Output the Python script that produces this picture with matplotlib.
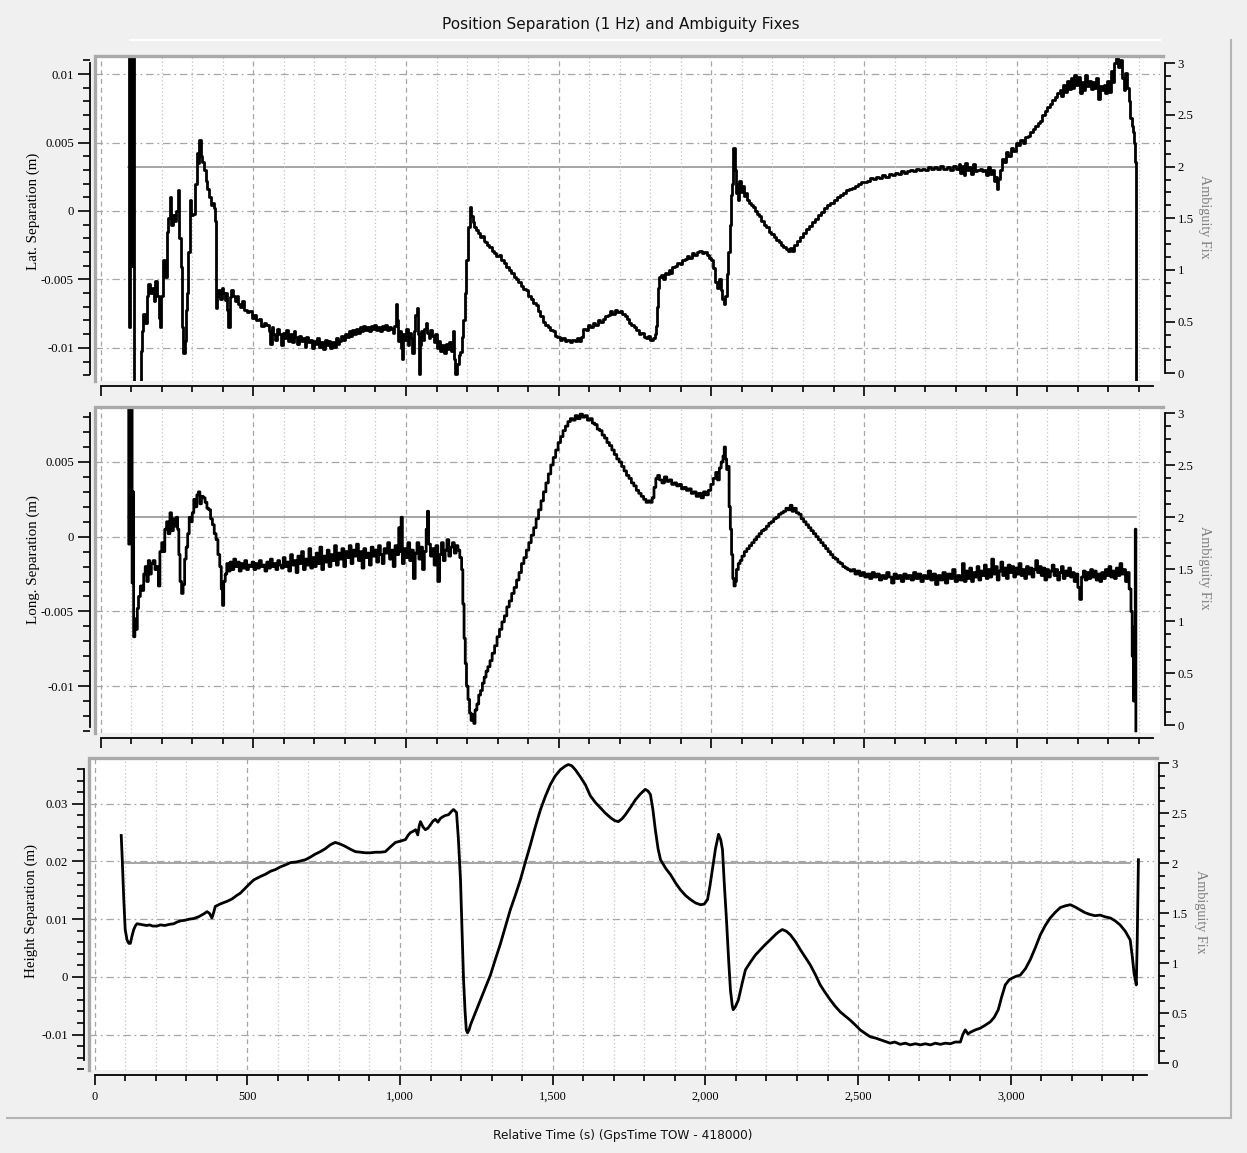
import matplotlib
matplotlib.use("Agg")
import matplotlib.pyplot as plt
from matplotlib.lines import Line2D
from matplotlib.ticker import MultipleLocator, FuncFormatter

# ---------------------------------------------------------------- data
# time (s, GpsTime TOW - 418000) and latitude separation (m)
lat_t = [88, 92, 95, 98, 100, 103, 106, 109, 132, 136, 140, 146, 151, 156, 162, 168, 174, 179, 185, 190,
         194, 199, 205, 210, 216, 222, 227, 232, 238, 243, 248, 254, 258, 262, 266, 271, 275, 279, 283, 287,
         292, 297, 303, 308, 314, 319, 323, 328, 333, 338, 344, 349, 354, 360, 365, 370, 374, 377, 381, 385,
         390, 396, 401, 406, 410, 414, 418, 423, 428, 434, 440, 446, 451, 457, 463, 470, 478, 486, 494, 502,
         510, 518, 526, 534, 542, 550, 556, 560, 566, 572, 578, 584, 590, 596, 602, 608, 614, 620, 626, 632,
         638, 644, 650, 656, 662, 668, 674, 680, 686, 692, 698, 704, 710, 716, 722, 728, 734, 740, 746, 752,
         758, 764, 770, 776, 782, 788, 794, 800, 806, 812, 818, 824, 830, 836, 842, 848, 854, 860, 866, 872,
         878, 884, 890, 896, 902, 908, 914, 920, 926, 932, 938, 944, 950, 956, 962, 966, 970, 974, 978, 982,
         986, 990, 995, 1000, 1005, 1010, 1015, 1020, 1025, 1030, 1035, 1038, 1041, 1045, 1050, 1055, 1060, 1065, 1070, 1075,
         1080, 1085, 1090, 1095, 1100, 1106, 1112, 1118, 1124, 1130, 1136, 1142, 1148, 1153, 1158, 1162, 1167, 1172, 1177, 1183,
         1188, 1193, 1198, 1203, 1208, 1213, 1218, 1224, 1230, 1236, 1242, 1248, 1254, 1260, 1266, 1272, 1280, 1288, 1296, 1304,
         1312, 1320, 1328, 1336, 1344, 1352, 1360, 1368, 1376, 1384, 1392, 1400, 1408, 1416, 1424, 1432, 1440, 1448, 1456, 1464,
         1472, 1480, 1488, 1496, 1504, 1512, 1520, 1528, 1536, 1544, 1552, 1560, 1568, 1574, 1580, 1588, 1596, 1604, 1612, 1620,
         1628, 1636, 1644, 1652, 1660, 1668, 1676, 1684, 1692, 1700, 1708, 1716, 1722, 1730, 1738, 1746, 1754, 1762, 1770, 1778,
         1786, 1794, 1800, 1808, 1814, 1818, 1822, 1826, 1830, 1836, 1842, 1848, 1854, 1860, 1866, 1872, 1880, 1888, 1896, 1904,
         1912, 1920, 1928, 1936, 1944, 1952, 1960, 1968, 1976, 1984, 1992, 2000, 2006, 2012, 2018, 2024, 2030, 2036, 2042, 2046,
         2050, 2055, 2060, 2064, 2068, 2072, 2076, 2080, 2084, 2088, 2092, 2096, 2100, 2106, 2112, 2118, 2124, 2130, 2136, 2142,
         2148, 2156, 2164, 2172, 2180, 2188, 2196, 2204, 2212, 2220, 2228, 2236, 2244, 2252, 2258, 2264, 2270, 2280, 2290, 2300,
         2310, 2320, 2330, 2340, 2350, 2360, 2370, 2380, 2390, 2400, 2410, 2420, 2430, 2440, 2450, 2460, 2470, 2480, 2490, 2500,
         2510, 2520, 2530, 2540, 2550, 2560, 2570, 2580, 2590, 2600, 2610, 2620, 2630, 2640, 2650, 2660, 2670, 2680, 2690, 2700,
         2710, 2720, 2730, 2740, 2750, 2760, 2770, 2780, 2790, 2800, 2810, 2815, 2820, 2826, 2832, 2838, 2844, 2850, 2856, 2862,
         2870, 2878, 2886, 2894, 2900, 2906, 2912, 2918, 2924, 2930, 2936, 2940, 2946, 2952, 2958, 2964, 2972, 2980, 2988, 2996,
         3004, 3012, 3020, 3028, 3036, 3044, 3052, 3060, 3068, 3076, 3084, 3092, 3100, 3108, 3116, 3124, 3132, 3140, 3146, 3152,
         3158, 3164, 3170, 3176, 3182, 3188, 3194, 3200, 3206, 3212, 3218, 3224, 3230, 3236, 3242, 3248, 3254, 3260, 3266, 3272,
         3278, 3284, 3290, 3296, 3302, 3308, 3314, 3320, 3326, 3332, 3338, 3344, 3350, 3356, 3362, 3368, 3372, 3376, 3380, 3384,
         3388, 3392]
lat_v = [0.0125, -0.0085, 0.0125, 0.0, 0.0125, -0.004, 0.0125, -0.0125, -0.0102, -0.0088, -0.0075, -0.0082, -0.0062, -0.0053, -0.0060, -0.0056, -0.0066, -0.0051, -0.0062, -0.0078,
         -0.0085, -0.0062, -0.0036, -0.0048, -0.0015, -0.0005, 0.0010, -0.0010, -0.0003, -0.0007, 0.0000, 0.0015, -0.0020, -0.0041, -0.0085, -0.0104, -0.0095, -0.0072, -0.0060, -0.0030,
         0.0008, -0.0003, -0.0002, 0.0020, 0.0042, 0.0035, 0.0052, 0.0040, 0.0036, 0.0030, 0.0022, 0.0016, 0.0010, 0.0004, 0.0006, 0.0002, -0.0007, -0.0071, -0.0062, -0.0058,
         -0.0064, -0.0056, -0.0060, -0.0065, -0.0060, -0.0072, -0.0085, -0.0063, -0.0058, -0.0062, -0.0066, -0.0062, -0.0068, -0.0070, -0.0066, -0.0072, -0.0074, -0.0073, -0.0078, -0.0076,
         -0.0080, -0.0079, -0.0084, -0.0082, -0.0083, -0.0088, -0.0097, -0.0085, -0.0090, -0.0094, -0.0086, -0.0090, -0.0098, -0.0089, -0.0093, -0.0087, -0.0095, -0.0090, -0.0096, -0.0088,
         -0.0092, -0.0097, -0.0091, -0.0095, -0.0093, -0.0099, -0.0092, -0.0096, -0.0094, -0.0100, -0.0095, -0.0097, -0.0093, -0.0099, -0.0096, -0.0101, -0.0094, -0.0098, -0.0095, -0.0100,
         -0.0096, -0.0099, -0.0093, -0.0097, -0.0095, -0.0091, -0.0094, -0.0090, -0.0092, -0.0088, -0.0091, -0.0087, -0.0090, -0.0086, -0.0089, -0.0085, -0.0088, -0.0084, -0.0087, -0.0085,
         -0.0088, -0.0084, -0.0086, -0.0083, -0.0087, -0.0085, -0.0088, -0.0084, -0.0086, -0.0083, -0.0087, -0.0085, -0.0086, -0.0089, -0.0084, -0.0068, -0.0080, -0.0095, -0.0088, -0.0100,
         -0.0108, -0.0090, -0.0094, -0.0086, -0.0098, -0.0089, -0.0093, -0.0104, -0.0088, -0.0076, -0.0071, -0.0090, -0.0119, -0.0098, -0.0088, -0.0094, -0.0086, -0.0082, -0.0089, -0.0093,
         -0.0087, -0.0091, -0.0096, -0.0090, -0.0100, -0.0095, -0.0102, -0.0098, -0.0104, -0.0097, -0.0101, -0.0096, -0.0102, -0.0088, -0.0108, -0.0119, -0.0112, -0.0105, -0.0103, -0.0092,
         -0.0080, -0.0060, -0.0036, -0.0012, 0.0003, -0.0004, -0.0008, -0.0012, -0.0014, -0.0016, -0.0019, -0.0018, -0.0022, -0.0023, -0.0025, -0.0026, -0.0029, -0.0031, -0.0033, -0.0032,
         -0.0036, -0.0038, -0.0041, -0.0043, -0.0045, -0.0048, -0.0050, -0.0052, -0.0055, -0.0057, -0.0058, -0.0062, -0.0064, -0.0067, -0.0069, -0.0073, -0.0077, -0.0081, -0.0083, -0.0085,
         -0.0087, -0.0088, -0.0091, -0.0092, -0.0094, -0.0093, -0.0095, -0.0094, -0.0096, -0.0094, -0.0095, -0.0093, -0.0095, -0.0092, -0.0086, -0.0087, -0.0083, -0.0085, -0.0082, -0.0083,
         -0.0080, -0.0081, -0.0079, -0.0077, -0.0076, -0.0073, -0.0075, -0.0072, -0.0074, -0.0073, -0.0075, -0.0077, -0.0079, -0.0082, -0.0083, -0.0085, -0.0087, -0.0090, -0.0089, -0.0092,
         -0.0093, -0.0091, -0.0094, -0.0093, -0.0090, -0.0084, -0.0070, -0.0056, -0.0048, -0.0047, -0.0050, -0.0045, -0.0046, -0.0043, -0.0045, -0.0041, -0.0040, -0.0038, -0.0039, -0.0036,
         -0.0035, -0.0033, -0.0034, -0.0031, -0.0032, -0.0030, -0.0029, -0.0031, -0.0030, -0.0032, -0.0034, -0.0036, -0.0042, -0.0052, -0.0056, -0.0050, -0.0058, -0.0064, -0.0068, -0.0062,
         -0.0046, -0.0030, -0.0010, 0.0012, 0.0020, 0.0046, 0.0030, 0.0013, 0.0020, 0.0008, 0.0022, 0.0014, 0.0018, 0.0011, 0.0013, 0.0008, 0.0006, 0.0004, 0.0003, 0.0000,
         -0.0002, -0.0004, -0.0007, -0.0010, -0.0012, -0.0015, -0.0017, -0.0019, -0.0021, -0.0023, -0.0025, -0.0026, -0.0028, -0.0029, -0.0027, -0.0029, -0.0025, -0.0022, -0.0019, -0.0016,
         -0.0013, -0.0011, -0.0008, -0.0006, -0.0003, -0.0001, 0.0002, 0.0004, 0.0006, 0.0008, 0.0010, 0.0012, 0.0013, 0.0015, 0.0016, 0.0017, 0.0018, 0.0020, 0.0021, 0.0021,
         0.0022, 0.0024, 0.0023, 0.0025, 0.0024, 0.0026, 0.0025, 0.0027, 0.0026, 0.0028, 0.0027, 0.0029, 0.0028, 0.0029, 0.0030, 0.0029, 0.0031, 0.0030, 0.0031, 0.0030,
         0.0032, 0.0031, 0.0032, 0.0031, 0.0033, 0.0031, 0.0032, 0.0030, 0.0033, 0.0031, 0.0034, 0.0028, 0.0033, 0.0026, 0.0035, 0.0030, 0.0032, 0.0027, 0.0034, 0.0029,
         0.0030, 0.0031, 0.0029, 0.0030, 0.0026, 0.0032, 0.0027, 0.0030, 0.0022, 0.0025, 0.0016, 0.0023, 0.0030, 0.0038, 0.0036, 0.0043, 0.0040, 0.0046, 0.0044, 0.0050,
         0.0048, 0.0052, 0.0050, 0.0054, 0.0055, 0.0058, 0.0060, 0.0062, 0.0064, 0.0066, 0.0070, 0.0073, 0.0076, 0.0078, 0.0081, 0.0083, 0.0086, 0.0088, 0.0084, 0.0092,
         0.0087, 0.0095, 0.0089, 0.0097, 0.0090, 0.0099, 0.0092, 0.0098, 0.0086, 0.0094, 0.0088, 0.0099, 0.0091, 0.0095, 0.0089, 0.0094, 0.0090, 0.0097, 0.0082, 0.0091,
         0.0088, 0.0092, 0.0086, 0.0095, 0.0087, 0.0102, 0.0094, 0.0108, 0.0112, 0.0105, 0.0110, 0.0097, 0.0088, 0.0101, 0.0090, 0.0080, 0.0068, 0.0062, 0.0058, 0.0050,
         0.0036, -0.0125]

# longitude separation (m)
long_t = [88, 92, 95, 98, 101, 103, 106, 108, 112, 116, 120, 124, 130, 136, 141, 146, 151, 156, 161, 166,
          172, 178, 183, 189, 194, 200, 205, 210, 216, 221, 227, 232, 238, 243, 248, 252, 256, 260, 265, 270,
          275, 280, 285, 290, 295, 300, 305, 310, 315, 320, 325, 330, 336, 342, 348, 354, 360, 366, 372, 378,
          384, 390, 395, 399, 403, 408, 413, 418, 424, 430, 436, 442, 448, 454, 460, 466, 472, 478, 484, 490,
          496, 502, 508, 514, 520, 526, 532, 538, 544, 550, 556, 562, 568, 574, 580, 586, 592, 598, 604, 610,
          616, 622, 628, 634, 640, 646, 652, 658, 664, 670, 676, 682, 688, 694, 700, 706, 712, 718, 724, 730,
          736, 742, 748, 754, 760, 766, 772, 778, 784, 790, 796, 802, 808, 814, 820, 826, 832, 838, 844, 850,
          856, 862, 868, 874, 880, 886, 892, 898, 904, 910, 916, 922, 928, 934, 940, 946, 952, 958, 964, 970,
          976, 980, 984, 988, 994, 1000, 1006, 1012, 1018, 1024, 1030, 1036, 1042, 1048, 1054, 1060, 1066, 1070, 1074, 1080,
          1086, 1092, 1098, 1104, 1110, 1116, 1122, 1128, 1134, 1140, 1146, 1152, 1158, 1164, 1170, 1176, 1182, 1186, 1190, 1194,
          1198, 1203, 1208, 1213, 1218, 1222, 1226, 1232, 1238, 1244, 1250, 1256, 1262, 1268, 1275, 1282, 1290, 1298, 1306, 1314,
          1322, 1330, 1338, 1346, 1354, 1362, 1370, 1378, 1386, 1394, 1402, 1410, 1418, 1426, 1434, 1442, 1450, 1458, 1466, 1474,
          1482, 1490, 1498, 1506, 1514, 1522, 1530, 1538, 1546, 1554, 1562, 1570, 1578, 1586, 1594, 1602, 1610, 1618, 1626, 1634,
          1642, 1650, 1658, 1666, 1674, 1682, 1690, 1698, 1706, 1714, 1722, 1730, 1738, 1746, 1754, 1762, 1770, 1778, 1786, 1794,
          1800, 1806, 1812, 1818, 1824, 1830, 1838, 1846, 1854, 1862, 1870, 1878, 1886, 1894, 1902, 1910, 1918, 1926, 1934, 1942,
          1950, 1958, 1966, 1974, 1982, 1990, 1998, 2006, 2014, 2020, 2026, 2032, 2038, 2042, 2046, 2050, 2054, 2058, 2062, 2066,
          2070, 2074, 2078, 2082, 2088, 2094, 2100, 2108, 2116, 2124, 2132, 2140, 2148, 2156, 2164, 2172, 2180, 2188, 2196, 2204,
          2212, 2220, 2228, 2236, 2244, 2252, 2258, 2264, 2270, 2278, 2286, 2294, 2302, 2310, 2318, 2326, 2334, 2342, 2350, 2358,
          2366, 2374, 2382, 2390, 2398, 2406, 2414, 2422, 2430, 2438, 2446, 2454, 2462, 2470, 2478, 2486, 2494, 2502, 2510, 2518,
          2526, 2534, 2542, 2550, 2558, 2566, 2574, 2582, 2590, 2598, 2606, 2614, 2622, 2630, 2638, 2646, 2654, 2662, 2670, 2678,
          2686, 2694, 2702, 2710, 2718, 2726, 2734, 2742, 2750, 2758, 2766, 2774, 2782, 2790, 2798, 2806, 2814, 2822, 2828, 2834,
          2840, 2846, 2852, 2858, 2864, 2870, 2876, 2882, 2888, 2894, 2900, 2906, 2912, 2918, 2924, 2930, 2936, 2942, 2948, 2954,
          2960, 2966, 2972, 2978, 2984, 2990, 2996, 3002, 3008, 3014, 3020, 3026, 3032, 3038, 3044, 3050, 3056, 3062, 3068, 3074,
          3080, 3086, 3092, 3098, 3104, 3110, 3116, 3122, 3128, 3134, 3140, 3146, 3152, 3158, 3164, 3170, 3176, 3182, 3188, 3194,
          3200, 3206, 3212, 3218, 3224, 3230, 3236, 3242, 3248, 3254, 3260, 3266, 3272, 3278, 3284, 3290, 3296, 3302, 3308, 3314,
          3320, 3326, 3332, 3338, 3344, 3350, 3356, 3362, 3368, 3374, 3378, 3382, 3385, 3388, 3390]
long_v = [0.0095, -0.0005, 0.0095, 0.0010, 0.0095, -0.0031, 0.0030, -0.0067, -0.0055, -0.0062, -0.0048, -0.0040, -0.0033, -0.0036, -0.0025, -0.0020, -0.0030, -0.0016, -0.0025, -0.0018,
          -0.0016, -0.0022, -0.0020, -0.0033, -0.0010, -0.0004, -0.0010, 0.0005, 0.0010, 0.0002, 0.0016, 0.0004, 0.0012, 0.0007, 0.0013, 0.0005, -0.0012, -0.0030, -0.0038, -0.0032,
          -0.0015, -0.0007, 0.0002, 0.0013, 0.0010, 0.0016, 0.0025, 0.0020, 0.0028, 0.0030, 0.0022, 0.0027, 0.0026, 0.0023, 0.0019, 0.0018, 0.0012, 0.0008, 0.0002, -0.0002,
          -0.0012, -0.0020, -0.0035, -0.0046, -0.0030, -0.0025, -0.0018, -0.0023, -0.0017, -0.0022, -0.0015, -0.0020, -0.0017, -0.0023, -0.0018, -0.0021, -0.0016, -0.0022, -0.0019, -0.0020,
          -0.0017, -0.0022, -0.0018, -0.0021, -0.0016, -0.0020, -0.0019, -0.0023, -0.0017, -0.0021, -0.0015, -0.0020, -0.0018, -0.0022, -0.0016, -0.0019, -0.0021, -0.0014, -0.0020, -0.0017,
          -0.0023, -0.0012, -0.0019, -0.0016, -0.0024, -0.0013, -0.0018, -0.0010, -0.0022, -0.0015, -0.0019, -0.0008, -0.0021, -0.0014, -0.0020, -0.0011, -0.0018, -0.0007, -0.0022, -0.0013,
          -0.0017, -0.0009, -0.0020, -0.0012, -0.0016, -0.0006, -0.0019, -0.0011, -0.0015, -0.0008, -0.0020, -0.0010, -0.0014, -0.0006, -0.0018, -0.0009, -0.0013, -0.0005, -0.0016, -0.0010,
          -0.0021, -0.0008, -0.0014, -0.0011, -0.0019, -0.0007, -0.0013, -0.0009, -0.0017, -0.0006, -0.0012, -0.0018, -0.0008, -0.0011, -0.0004, -0.0015, -0.0009, -0.0020, -0.0006, -0.0012,
          0.0006, -0.0010, 0.0013, -0.0018, -0.0008, -0.0014, -0.0004, -0.0016, -0.0009, -0.0028, -0.0011, -0.0004, -0.0015, -0.0007, -0.0022, -0.0010, 0.0005, 0.0017, -0.0005, -0.0013,
          -0.0008, -0.0019, -0.0006, -0.0030, -0.0012, -0.0004, -0.0016, -0.0009, -0.0002, -0.0013, -0.0007, -0.0004, -0.0011, -0.0006, -0.0009, -0.0014, -0.0022, -0.0045, -0.0068, -0.0085,
          -0.0100, -0.0109, -0.0118, -0.0123, -0.0119, -0.0125, -0.0116, -0.0112, -0.0106, -0.0103, -0.0098, -0.0094, -0.0090, -0.0087, -0.0083, -0.0078, -0.0073, -0.0067, -0.0062, -0.0057,
          -0.0053, -0.0047, -0.0043, -0.0038, -0.0034, -0.0029, -0.0024, -0.0018, -0.0014, -0.0009, -0.0004, 0.0001, 0.0006, 0.0012, 0.0018, 0.0024, 0.0030, 0.0036, 0.0042, 0.0048,
          0.0053, 0.0058, 0.0063, 0.0067, 0.0071, 0.0074, 0.0077, 0.0079, 0.0078, 0.0081, 0.0079, 0.0082, 0.0080, 0.0081, 0.0078, 0.0079, 0.0076, 0.0075, 0.0072, 0.0071,
          0.0068, 0.0066, 0.0063, 0.0061, 0.0058, 0.0055, 0.0052, 0.0050, 0.0047, 0.0044, 0.0041, 0.0039, 0.0036, 0.0034, 0.0031, 0.0029, 0.0027, 0.0025, 0.0023, 0.0024,
          0.0023, 0.0026, 0.0033, 0.0039, 0.0041, 0.0038, 0.0036, 0.0040, 0.0037, 0.0038, 0.0035, 0.0036, 0.0034, 0.0035, 0.0032, 0.0033, 0.0031, 0.0032, 0.0029, 0.0030,
          0.0027, 0.0029, 0.0026, 0.0030, 0.0028, 0.0031, 0.0035, 0.0039, 0.0043, 0.0038, 0.0046, 0.0050, 0.0054, 0.0060, 0.0052, 0.0045, 0.0047, 0.0020, 0.0005, -0.0012,
          -0.0028, -0.0033, -0.0030, -0.0022, -0.0018, -0.0016, -0.0013, -0.0010, -0.0008, -0.0006, -0.0004, -0.0002, 0.0000, 0.0002, 0.0004, 0.0005, 0.0007, 0.0009, 0.0010, 0.0012,
          0.0013, 0.0015, 0.0016, 0.0017, 0.0019, 0.0018, 0.0021, 0.0017, 0.0019, 0.0016, 0.0015, 0.0012, 0.0010, 0.0008, 0.0006, 0.0004, 0.0002, 0.0000, -0.0002, -0.0004,
          -0.0006, -0.0008, -0.0010, -0.0012, -0.0014, -0.0015, -0.0017, -0.0018, -0.0020, -0.0021, -0.0022, -0.0023, -0.0022, -0.0025, -0.0023, -0.0026, -0.0024, -0.0027, -0.0025, -0.0028,
          -0.0024, -0.0027, -0.0025, -0.0029, -0.0026, -0.0028, -0.0024, -0.0027, -0.0031, -0.0025, -0.0028, -0.0026, -0.0030, -0.0025, -0.0028, -0.0026, -0.0029, -0.0024, -0.0028, -0.0025,
          -0.0030, -0.0026, -0.0028, -0.0023, -0.0029, -0.0025, -0.0032, -0.0026, -0.0029, -0.0024, -0.0031, -0.0025, -0.0028, -0.0022, -0.0030, -0.0026, -0.0029, -0.0018, -0.0030, -0.0023,
          -0.0028, -0.0021, -0.0030, -0.0024, -0.0027, -0.0020, -0.0029, -0.0023, -0.0026, -0.0019, -0.0028, -0.0022, -0.0027, -0.0015, -0.0025, -0.0020, -0.0029, -0.0023, -0.0017, -0.0026,
          -0.0021, -0.0028, -0.0019, -0.0024, -0.0020, -0.0027, -0.0021, -0.0025, -0.0018, -0.0026, -0.0022, -0.0028, -0.0020, -0.0025, -0.0021, -0.0027, -0.0022, -0.0016, -0.0024, -0.0020,
          -0.0026, -0.0021, -0.0029, -0.0022, -0.0027, -0.0023, -0.0019, -0.0026, -0.0022, -0.0029, -0.0024, -0.0020, -0.0028, -0.0023, -0.0026, -0.0021, -0.0027, -0.0024, -0.0030, -0.0025,
          -0.0034, -0.0042, -0.0027, -0.0023, -0.0029, -0.0024, -0.0028, -0.0022, -0.0027, -0.0023, -0.0029, -0.0025, -0.0030, -0.0024, -0.0028, -0.0022, -0.0026, -0.0020, -0.0027, -0.0023,
          -0.0028, -0.0021, -0.0026, -0.0018, -0.0025, -0.0022, -0.0030, -0.0024, -0.0035, -0.0050, -0.0080, -0.0110, -0.0060, 0.0005, -0.0130]

# height separation (m)
height_t = [87, 90, 95, 100, 106, 112, 117, 122, 128, 134, 139, 150, 160, 170, 180, 190, 204, 215, 230, 245,
            259, 270, 281, 295, 310, 324, 340, 357, 368, 376, 384, 390, 395, 410, 425, 434, 450, 465, 477, 490,
            505, 521, 532, 543, 560, 576, 592, 610, 625, 641, 660, 675, 690, 705, 720, 739, 755, 772, 788, 805,
            821, 838, 854, 870, 887, 903, 920, 936, 952, 968, 985, 1000, 1018, 1026, 1034, 1042, 1051, 1058, 1063, 1067,
            1075, 1083, 1092, 1100, 1108, 1116, 1124, 1133, 1142, 1150, 1159, 1167, 1175, 1185, 1191, 1198, 1203, 1208, 1213, 1217,
            1221, 1226, 1231, 1237, 1250, 1263, 1280, 1296, 1312, 1328, 1345, 1361, 1378, 1394, 1410, 1427, 1443, 1460, 1476, 1492,
            1508, 1525, 1540, 1551, 1562, 1574, 1590, 1607, 1623, 1640, 1656, 1672, 1689, 1702, 1715, 1727, 1738, 1755, 1771, 1787,
            1803, 1812, 1820, 1828, 1836, 1845, 1853, 1870, 1886, 1902, 1918, 1935, 1951, 1968, 1984, 1996, 2007, 2015, 2023, 2033,
            2043, 2050, 2056, 2062, 2069, 2076, 2082, 2088, 2091, 2098, 2108, 2120, 2131, 2148, 2164, 2180, 2196, 2212, 2229, 2240,
            2252, 2265, 2278, 2295, 2311, 2327, 2343, 2360, 2376, 2392, 2409, 2425, 2442, 2458, 2474, 2490, 2507, 2523, 2540, 2556,
            2573, 2589, 2605, 2620, 2638, 2655, 2670, 2688, 2704, 2720, 2737, 2753, 2769, 2786, 2802, 2818, 2835, 2843, 2851, 2860,
            2868, 2884, 2900, 2916, 2933, 2946, 2959, 2970, 2982, 2995, 3005, 3018, 3031, 3048, 3064, 3080, 3097, 3113, 3129, 3146,
            3162, 3178, 3195, 3211, 3227, 3244, 3260, 3276, 3293, 3309, 3326, 3342, 3358, 3375, 3391, 3398, 3404, 3411, 3414, 3418]
height_v = [0.0245, 0.0209, 0.0139, 0.0082, 0.0064, 0.0058, 0.0058, 0.0070, 0.0082, 0.0089, 0.0092, 0.0091, 0.0090, 0.0089, 0.0090, 0.0088, 0.0088, 0.0090, 0.0089, 0.0091,
            0.0092, 0.0095, 0.0097, 0.0098, 0.0100, 0.0101, 0.0104, 0.0109, 0.0113, 0.0110, 0.0102, 0.0112, 0.0122, 0.0126, 0.0129, 0.0131, 0.0135, 0.0141, 0.0145, 0.0152,
            0.0160, 0.0168, 0.0171, 0.0174, 0.0178, 0.0183, 0.0186, 0.0191, 0.0194, 0.0198, 0.0199, 0.0201, 0.0203, 0.0207, 0.0212, 0.0217, 0.0222, 0.0229, 0.0233, 0.0230,
            0.0226, 0.0221, 0.0217, 0.0216, 0.0215, 0.0215, 0.0216, 0.0216, 0.0217, 0.0225, 0.0233, 0.0235, 0.0238, 0.0245, 0.0250, 0.0252, 0.0255, 0.0246, 0.0262, 0.0269,
            0.0260, 0.0255, 0.0258, 0.0264, 0.0270, 0.0273, 0.0268, 0.0275, 0.0278, 0.0280, 0.0281, 0.0286, 0.0290, 0.0285, 0.0240, 0.0168, 0.0080, -0.0005, -0.0060, -0.0092,
            -0.0097, -0.0092, -0.0083, -0.0075, -0.0058, -0.0040, -0.0018, 0.0003, 0.0030, 0.0056, 0.0087, 0.0116, 0.0142, 0.0168, 0.0198, 0.0229, 0.0260, 0.0290, 0.0313, 0.0333,
            0.0348, 0.0359, 0.0365, 0.0368, 0.0366, 0.0359, 0.0347, 0.0333, 0.0314, 0.0302, 0.0293, 0.0284, 0.0276, 0.0271, 0.0269, 0.0274, 0.0281, 0.0294, 0.0307, 0.0317,
            0.0325, 0.0322, 0.0316, 0.0290, 0.0255, 0.0222, 0.0203, 0.0188, 0.0177, 0.0163, 0.0151, 0.0141, 0.0134, 0.0128, 0.0125, 0.0126, 0.0134, 0.0158, 0.0186, 0.0222,
            0.0247, 0.0238, 0.0220, 0.0160, 0.0099, 0.0030, -0.0023, -0.0050, -0.0057, -0.0052, -0.0040, -0.0012, 0.0012, 0.0026, 0.0038, 0.0047, 0.0056, 0.0064, 0.0073, 0.0078,
            0.0082, 0.0079, 0.0073, 0.0061, 0.0047, 0.0034, 0.0021, 0.0004, -0.0014, -0.0027, -0.0040, -0.0051, -0.0061, -0.0068, -0.0075, -0.0083, -0.0092, -0.0098, -0.0104, -0.0106,
            -0.0109, -0.0112, -0.0115, -0.0113, -0.0117, -0.0115, -0.0118, -0.0116, -0.0118, -0.0116, -0.0118, -0.0115, -0.0117, -0.0115, -0.0116, -0.0113, -0.0113, -0.0100, -0.0092, -0.0099,
            -0.0096, -0.0092, -0.0089, -0.0084, -0.0078, -0.0070, -0.0057, -0.0035, -0.0014, -0.0005, -0.0002, 0.0001, 0.0003, 0.0014, 0.0030, 0.0050, 0.0073, 0.0089, 0.0102, 0.0112,
            0.0120, 0.0123, 0.0125, 0.0121, 0.0116, 0.0111, 0.0108, 0.0106, 0.0107, 0.0104, 0.0102, 0.0097, 0.0090, 0.0079, 0.0064, 0.0035, 0.0005, -0.0014, 0.0060, 0.0203]

# ambiguity fix status over the session
amb_t = [88, 3392]
amb_v = [2, 2]

x_ticks_major = 500
x_ticks_minor = 100
title = "Position Separation (1 Hz) and Ambiguity Fixes"
x_label = "Relative Time (s) (GpsTime TOW - 418000)"

# ---------------------------------------------------------------- layout
W, H = 1247, 1153
PT = 72.0 / 100.0          # points per pixel at 100 dpi
SERIF = ["Liberation Serif", "DejaVu Serif"]
SANS = ["DejaVu Sans"]
BG = "#f0f0f0"
FRAME = "#a9a9a9"

fig = plt.figure(figsize=(W / 100, H / 100), dpi=100, facecolor=BG)


def rect(x0, y0, x1, y1):
    return [x0 / W, 1 - y1 / H, (x1 - x0) / W, (y1 - y0) / H]


panels = [
    dict(t=lat_t, v=lat_v, steps=True, box=(95, 56, 1160, 381), ylim=(-0.01242, 0.01132),
         lbounds=(-0.0119, 0.01083), major=0.005, minor=0.001, rlim=(-0.0745, 3.0706),
         label="Lat. Separation (m)", ylab_y=211, rlab_y=217, ylab_x=33, rlab_x=1205),
    dict(t=long_t, v=long_v, steps=True, box=(95, 406.7, 1160, 732.7), ylim=(-0.01312, 0.0087),
         lbounds=(-0.01272, 0.00828), major=0.005, minor=0.001, rlim=(-0.0741, 3.0635),
         label="Long. Separation (m)", ylab_y=560, rlab_y=568, ylab_x=33, rlab_x=1205),
    dict(t=height_t, v=height_v, steps=False, box=(89, 758.3, 1154, 1070), ylim=(-0.01615, 0.03788),
         lbounds=(-0.01441, 0.0361), major=0.01, minor=0.002, rlim=(-0.0650, 3.050),
         label="Height Separation (m)", ylab_y=911, rlab_y=912, ylab_x=31, rlab_x=1201),
]

XLIM = (-18.5, 3469)
X_AXIS_END = 3446


def yfmt(v, _):
    v = round(v, 6)
    if v == 0:
        return "0"
    return f"{v:g}"


for i, p in enumerate(panels):
    x0, y0, x1, y1 = p["box"]
    ax2 = fig.add_axes(rect(x0, y0, x1, y1))      # ambiguity axis (drawn underneath)
    ax = fig.add_axes(rect(x0, y0, x1, y1), sharex=ax2)
    ax2.set_zorder(1)
    ax.set_zorder(2)
    ax.patch.set_visible(False)
    ax2.set_facecolor("white")

    # ambiguity fix axis on the right
    ax2.plot(amb_t, amb_v, color="#8c8c8c", lw=1.1)
    ax2.set_ylim(*p["rlim"])
    ax2.yaxis.tick_right()
    for s in ("left", "top", "bottom"):
        ax2.spines[s].set_visible(False)
    ax2.spines["right"].set_position(("outward", 5 * PT))
    ax2.spines["right"].set_bounds(0, 3)
    ax2.spines["right"].set_linewidth(1.3)
    ax2.yaxis.set_major_locator(MultipleLocator(0.5))
    ax2.yaxis.set_minor_locator(MultipleLocator(0.125))
    ax2.yaxis.set_major_formatter(FuncFormatter(yfmt))
    ax2.tick_params(axis="y", which="major", direction="out", length=10 * PT, width=1.2,
                    pad=2.5 * PT, labelsize=9.2)
    ax2.tick_params(axis="y", which="minor", direction="out", length=6 * PT, width=1.2)
    for lab in ax2.get_yticklabels():
        lab.set_family(SERIF)
    ax2.tick_params(axis="x", which="both", bottom=False, labelbottom=False)

    # separation curve
    ax.plot(p["t"], p["v"], color="black", lw=2.0,
            drawstyle="steps-post" if p["steps"] else "default", zorder=3)
    ax.set_xlim(*XLIM)
    ax.set_ylim(*p["ylim"])

    ax.spines["top"].set_visible(False)
    ax.spines["right"].set_visible(False)
    ax.spines["left"].set_position(("outward", 5 * PT))
    ax.spines["left"].set_bounds(*p["lbounds"])
    ax.spines["left"].set_linewidth(1.3)
    ax.spines["bottom"].set_position(("outward", 5 * PT))
    ax.spines["bottom"].set_bounds(0, X_AXIS_END)
    ax.spines["bottom"].set_linewidth(1.3)

    ax.yaxis.set_major_locator(MultipleLocator(p["major"]))
    ax.yaxis.set_minor_locator(MultipleLocator(p["minor"]))
    ax.yaxis.set_major_formatter(FuncFormatter(yfmt))
    ax.xaxis.set_major_locator(MultipleLocator(x_ticks_major))
    ax.xaxis.set_minor_locator(MultipleLocator(x_ticks_minor))
    ax.xaxis.set_major_formatter(FuncFormatter(lambda v, _: f"{int(round(v)):,}"))

    ax.tick_params(axis="y", which="major", direction="out", length=12 * PT, width=1.2,
                   pad=4 * PT, labelsize=9.2)
    ax.tick_params(axis="y", which="minor", direction="out", length=7 * PT, width=1.2)
    ax.tick_params(axis="x", which="major", direction="out", length=10 * PT, width=1.2,
                   pad=6 * PT, labelsize=8.8, labelbottom=(i == 2))
    ax.tick_params(axis="x", which="minor", direction="out", length=6 * PT, width=1.2)
    for lab in ax.get_yticklabels() + ax.get_xticklabels():
        lab.set_family(SERIF)

    # grid: dashed major / dotted minor verticals, dash-dot horizontals
    ax.xaxis.grid(True, which="major", color="#a6a6a6", lw=0.9, ls=(0, (4, 3)))
    ax.xaxis.grid(True, which="minor", color="#c4c4c4", lw=0.9, ls=(0, (1, 2)))
    ax.yaxis.grid(True, which="major", color="#a6a6a6", lw=0.9, ls=(0, (6, 3, 1.5, 3)))
    ax.set_axisbelow(True)

    # sunken frame on the top and left edges of the plotting area
    ax.add_line(Line2D([0, 0, 1.003], [0, 1, 1], transform=ax.transAxes, color=FRAME,
                       lw=2.4, clip_on=False, solid_joinstyle="miter", zorder=4))

    fig.text(p["ylab_x"] / W, 1 - p["ylab_y"] / H, p["label"], rotation=90,
             ha="center", va="center", family=SERIF, fontsize=10.8)
    fig.text(p["rlab_x"] / W, 1 - p["rlab_y"] / H, "Ambiguity Fix", rotation=270,
             ha="center", va="center", family=SERIF, fontsize=10.2, color="#7f7f7f")

# titles
fig.text(621 / W, 1 - 25 / H, title, ha="center", va="center", family=SANS, fontsize=11,
         color="#111111")
fig.text(623 / W, 1 - 1136 / H, x_label, ha="center", va="center", family=SANS, fontsize=8.7,
         color="#111111")

# window frame lines
fig.add_artist(Line2D([130 / W, 1160 / W], [1 - 40 / H, 1 - 40 / H], color="white", lw=1.5))
fig.add_artist(Line2D([1231 / W, 1231 / W], [1 - 40 / H, 1 - 1118 / H], color="#b4b4b4", lw=1.5))
fig.add_artist(Line2D([7 / W, 1231 / W], [1 - 1118 / H, 1 - 1118 / H], color="#b4b4b4", lw=1.5))

fig.savefig("out.png", dpi=100, facecolor=BG)
